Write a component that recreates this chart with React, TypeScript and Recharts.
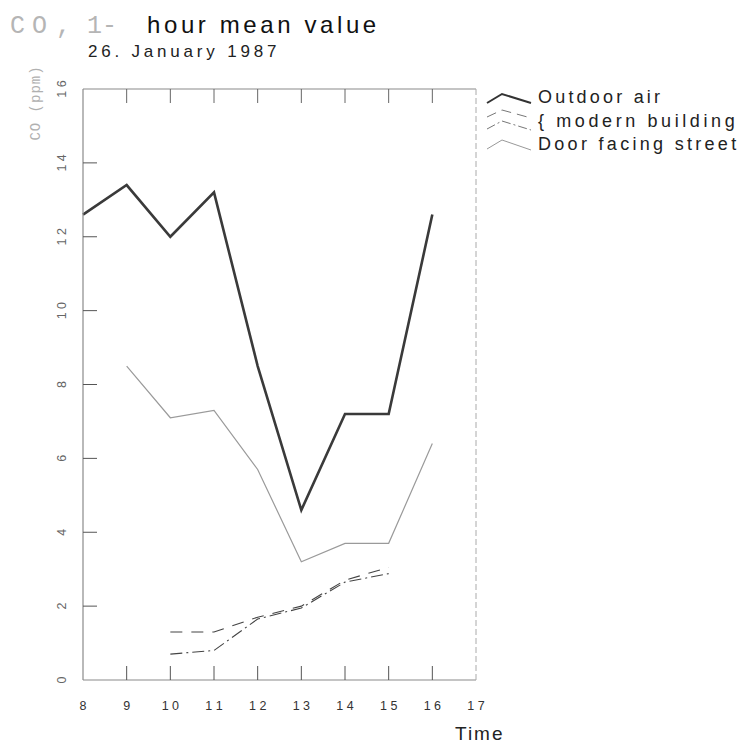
import React from "react";
import { LineChart, Line, XAxis, YAxis } from "recharts";

const hours = [8, 9, 10, 11, 12, 13, 14, 15, 16];
const outdoorAir = [12.6, 13.4, 12.0, 13.2, 8.5, 4.6, 7.2, 7.2, 12.6];
const doorFacingStreet = [null, 8.5, 7.1, 7.3, 5.7, 3.2, 3.7, 3.7, 6.4];
const modernDashed = [null, null, 1.3, 1.3, 1.7, 2.0, 2.7, 3.05, null];
const modernDashDot = [null, null, 0.7, 0.8, 1.65, 1.95, 2.65, 2.88, null];

const xTicks = [8, 9, 10, 11, 12, 13, 14, 15, 16, 17];
const yTicks = [0, 2, 4, 6, 8, 10, 12, 14, 16];

const data = hours.map((t, i) => ({
  t,
  outdoor: outdoorAir[i],
  door: doorFacingStreet[i],
  modA: modernDashed[i],
  modB: modernDashDot[i],
}));

const AXIS = "#8a8a8a";
const TL = 14;

const spaced = (v: number) => String(v).split("").join(" ");

const BottomTick = (props: any) => {
  const { x, y, payload } = props;
  const v = payload.value;
  const inner = v !== 8 && v !== 17;
  return (
    <g>
      {inner && <line x1={x} y1={y} x2={x} y2={y - TL} stroke="#555" strokeWidth={1} />}
      <text x={x} y={y + 30} textAnchor="middle" fontFamily="Liberation Sans, Arial" fontSize={12.5} fill="#333">
        {spaced(v)}
      </text>
    </g>
  );
};

const TopTick = (props: any) => {
  const { x, y, payload } = props;
  const v = payload.value;
  if (v === 8 || v === 17) return <g />;
  return <line x1={x} y1={y} x2={x} y2={y + TL} stroke="#666" strokeWidth={1} />;
};

const LeftTick = (props: any) => {
  const { x, y, payload } = props;
  const v = payload.value;
  const inner = v !== 0 && v !== 16;
  return (
    <g>
      {inner && <line x1={x} y1={y} x2={x + TL} y2={y} stroke="#555" strokeWidth={1} />}
      <text
        x={x - 21}
        y={y + 4}
        transform={`rotate(-90 ${x - 21} ${y})`}
        textAnchor="middle"
        fontFamily="Liberation Sans, Arial"
        fontSize={12.5}
        fill="#666"
      >
        {spaced(v)}
      </text>
    </g>
  );
};

const RightTick = (props: any) => {
  const { x, y, payload } = props;
  const v = payload.value;
  if (v === 0 || v === 16) return <g />;
  return <line x1={x} y1={y} x2={x - TL} y2={y} stroke="#777" strokeWidth={1} />;
};

const titleMono = "Liberation Mono, DejaVu Sans Mono";

export default function App() {
  return (
    <div style={{ position: "absolute", left: 0, top: 0, width: 745, height: 744, background: "#fff" }}>
      <LineChart
        width={745}
        height={744}
        data={data}
        margin={{ top: 69, right: 249, bottom: 24, left: 43 }}
      >
        <XAxis
          xAxisId="b"
          dataKey="t"
          type="number"
          domain={[8, 17]}
          ticks={xTicks}
          height={40}
          tickSize={0}
          tickMargin={0}
          tickLine={false}
          axisLine={{ stroke: AXIS, strokeWidth: 1.2 }}
          tick={<BottomTick />}
          interval={0}
        />
        <XAxis
          xAxisId="t"
          orientation="top"
          dataKey="t"
          type="number"
          domain={[8, 17]}
          ticks={xTicks}
          height={20}
          tickSize={0}
          tickMargin={0}
          tickLine={false}
          axisLine={{ stroke: AXIS, strokeWidth: 1.2 }}
          tick={<TopTick />}
          interval={0}
        />
        <YAxis
          yAxisId="l"
          type="number"
          domain={[0, 16]}
          ticks={yTicks}
          width={40}
          tickSize={0}
          tickMargin={0}
          tickLine={false}
          axisLine={{ stroke: AXIS, strokeWidth: 1.2 }}
          tick={<LeftTick />}
          interval={0}
        />
        <YAxis
          yAxisId="r"
          orientation="right"
          type="number"
          domain={[0, 16]}
          ticks={yTicks}
          width={20}
          tickSize={0}
          tickMargin={0}
          tickLine={false}
          axisLine={{ stroke: "#aaa", strokeWidth: 1, strokeDasharray: "6 3" }}
          tick={<RightTick />}
          interval={0}
        />
        <Line
          xAxisId="b"
          yAxisId="l"
          dataKey="outdoor"
          stroke="#3a3a3a"
          strokeWidth={2.6}
          dot={false}
          isAnimationActive={false}
        />
        <Line
          xAxisId="b"
          yAxisId="l"
          dataKey="door"
          stroke="#9a9a9a"
          strokeWidth={1.2}
          dot={false}
          isAnimationActive={false}
        />
        <Line
          xAxisId="b"
          yAxisId="l"
          dataKey="modA"
          stroke="#444"
          strokeWidth={1.1}
          strokeDasharray="12 9"
          dot={false}
          isAnimationActive={false}
        />
        <Line
          xAxisId="b"
          yAxisId="l"
          dataKey="modB"
          stroke="#444"
          strokeWidth={1.1}
          strokeDasharray="12 4 2 4"
          dot={false}
          isAnimationActive={false}
        />
      </LineChart>
      <svg
        width={745}
        height={744}
        style={{ position: "absolute", left: 0, top: 0, pointerEvents: "none" }}
      >
        <text x={10} y={33} fontFamily={titleMono} fontSize={25} fill="#b5b5b5">C</text>
        <text x={32} y={33} fontFamily={titleMono} fontSize={25} fill="#b5b5b5">O</text>
        <text x={56} y={33} fontFamily={titleMono} fontSize={25} fill="#b5b5b5">,</text>
        <text x={87} y={33} fontFamily={titleMono} fontSize={25} fill="#b5b5b5">1</text>
        <text x={102} y={33} fontFamily={titleMono} fontSize={25} fill="#b5b5b5">-</text>
        <text x={147} y={33} fontFamily="Liberation Sans, Arial" fontSize={24} fill="#111" letterSpacing={3.6}>
          hour mean value
        </text>
        <text x={88} y={57} fontFamily="Liberation Sans, Arial" fontSize={17} fill="#222" letterSpacing={3.8}>
          26. January 1987
        </text>
        <text
          x={40}
          y={103}
          transform="rotate(-90 40 103)"
          textAnchor="middle"
          fontFamily={titleMono}
          fontSize={14}
          letterSpacing={1}
          fill="#b0b0b0"
        >
          CO (ppm)
        </text>
        <text x={455} y={740} fontFamily="Liberation Sans, Arial" fontSize={19} fill="#222" letterSpacing={2}>
          Time
        </text>
        {/* legend */}
        <path d="M487,103 L502,94 L531,103" fill="none" stroke="#333" strokeWidth={2} />
        <text x={538} y={103} fontFamily="Liberation Sans, Arial" fontSize={18} fill="#222" letterSpacing={3.2}>
          Outdoor air
        </text>
        <path d="M487,117 L502,110 L531,118" fill="none" stroke="#777" strokeWidth={1} strokeDasharray="10 6" />
        <path d="M487,129 L502,121 L531,130" fill="none" stroke="#777" strokeWidth={1} strokeDasharray="9 3 2 3" />
        <text x={538} y={127} fontFamily="Liberation Sans, Arial" fontSize={18} fill="#222" letterSpacing={3.6}>
          {"{ modern building"}
        </text>
        <path d="M487,149 L502,140 L531,150" fill="none" stroke="#999" strokeWidth={1} />
        <text x={538} y={150} fontFamily="Liberation Sans, Arial" fontSize={18} fill="#222" letterSpacing={3.3}>
          Door facing street
        </text>
      </svg>
    </div>
  );
}
